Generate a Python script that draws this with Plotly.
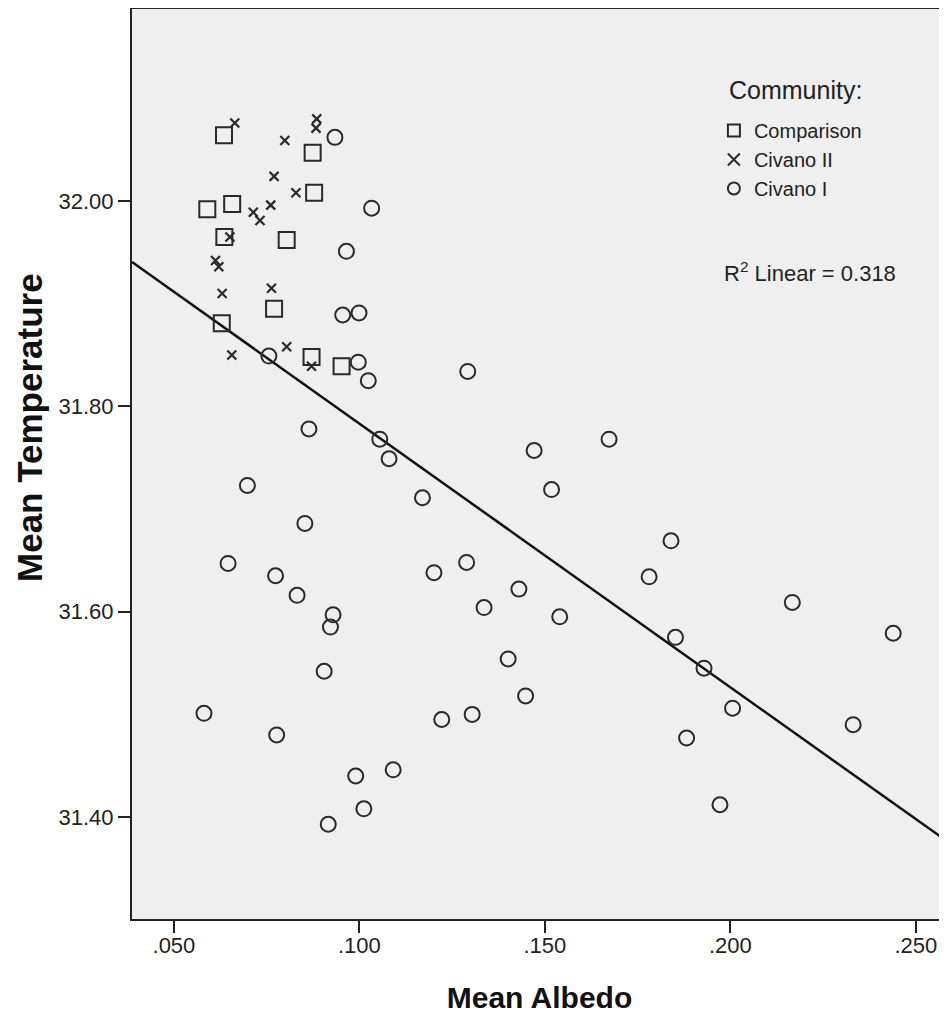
import numpy as np
import plotly.graph_objects as go

# ---- data ----
comparison_albedo = [0.0635, 0.0874, 0.0878, 0.0590, 0.0657, 0.0636, 0.0804, 0.0770, 0.0629, 0.0871, 0.0952]
comparison_temp = [32.064, 32.047, 32.008, 31.992, 31.997, 31.965, 31.962, 31.895, 31.881, 31.848, 31.839]

civano2_albedo = [0.0664, 0.0885, 0.0883, 0.0799, 0.0770, 0.0829, 0.0761, 0.0714, 0.0732, 0.0651,
                  0.0612, 0.0621, 0.0630, 0.0763, 0.0656, 0.0804, 0.0871]
civano2_temp = [32.076, 32.080, 32.071, 32.059, 32.024, 32.008, 31.996, 31.989, 31.981, 31.965,
                31.942, 31.936, 31.910, 31.915, 31.850, 31.858, 31.839]

civano1_albedo = [0.0934, 0.1033, 0.0965, 0.0955, 0.0999, 0.0756, 0.0997, 0.1024, 0.1292, 0.0864,
                  0.1055, 0.1080, 0.0698, 0.1170, 0.0853, 0.1471, 0.1673, 0.1518, 0.1840, 0.1781,
                  0.0646, 0.0774, 0.0832, 0.0929, 0.0922, 0.0905, 0.1289, 0.1201, 0.1430, 0.1336,
                  0.1540, 0.1852, 0.1929, 0.1401, 0.1448, 0.1304, 0.1222, 0.2006, 0.1882, 0.1972,
                  0.2167, 0.2439, 0.2331, 0.0581, 0.0777, 0.0990, 0.1091, 0.1012, 0.0916]
civano1_temp = [32.062, 31.993, 31.951, 31.889, 31.891, 31.849, 31.843, 31.825, 31.834, 31.778,
                31.768, 31.749, 31.723, 31.711, 31.686, 31.757, 31.768, 31.719, 31.669, 31.634,
                31.647, 31.635, 31.616, 31.597, 31.585, 31.542, 31.648, 31.638, 31.622, 31.604,
                31.595, 31.575, 31.545, 31.554, 31.518, 31.500, 31.495, 31.506, 31.477, 31.412,
                31.609, 31.579, 31.490, 31.501, 31.480, 31.440, 31.446, 31.408, 31.393]

# fitted line as drawn in the reference (R^2 linear = 0.318)
fit_intercept = 32.040
fit_slope = -2.568

x_tickvals = [0.05, 0.10, 0.15, 0.20, 0.25]
x_ticktext = [".050", ".100", ".150", ".200", ".250"]
y_tickvals = [31.40, 31.60, 31.80, 32.00]
y_ticktext = ["31.40", "31.60", "31.80", "32.00"]

x_range = [0.0387, 0.2584]
y_range = [31.3007, 32.188]

fit_x = np.array(x_range)
fit_y = fit_intercept + fit_slope * fit_x

INK = "#2a2a2a"
FONT = "Liberation Sans, Arial, sans-serif"

fig = go.Figure()
fig.add_trace(go.Scatter(
    x=fit_x, y=fit_y, mode="lines", line=dict(color="#111111", width=2.5),
    showlegend=False, hoverinfo="skip"))
fig.add_trace(go.Scatter(
    x=comparison_albedo, y=comparison_temp, mode="markers", name="Comparison",
    legendgroup="a",
    marker=dict(symbol="square-open", size=16, color=INK, line=dict(width=2, color=INK))))
fig.add_trace(go.Scatter(
    x=civano2_albedo, y=civano2_temp, mode="markers", name="Civano II",
    legendgroup="b",
    marker=dict(symbol="x-thin-open", size=9, color=INK, line=dict(width=2.2, color=INK))))
fig.add_trace(go.Scatter(
    x=civano1_albedo, y=civano1_temp, mode="markers", name="Civano I",
    legendgroup="c",
    marker=dict(symbol="circle-open", size=15, color=INK, line=dict(width=2, color=INK))))

fig.update_layout(
    width=939, height=1009,
    margin=dict(l=124, r=0, t=0, b=98),
    paper_bgcolor="white",
    plot_bgcolor="#efefef",
    font=dict(family=FONT, color="#222222"),
    showlegend=True,
    legend=dict(
        x=0.714, xanchor="left", y=0.887, yanchor="top",
        bgcolor="rgba(0,0,0,0)", borderwidth=0,
        font=dict(size=20, family=FONT, color="#222"),
        tracegroupgap=0,
        itemsizing="constant",
    ),
    xaxis=dict(
        range=x_range, tickvals=x_tickvals, ticktext=x_ticktext,
        showgrid=False, zeroline=False,
        showline=True, linecolor="#222", linewidth=2,
        ticks="outside", ticklen=12, tickwidth=2, tickcolor="#222",
        ticklabelstandoff=-6,
        tickfont=dict(size=22, family=FONT, color="#222"),
        title=dict(text="<b>Mean Albedo</b>", font=dict(size=30, family=FONT, color="#111"), standoff=30),
    ),
    yaxis=dict(
        range=y_range, tickvals=y_tickvals, ticktext=y_ticktext,
        showgrid=False, zeroline=False,
        showline=True, linecolor="#222", linewidth=2,
        ticks="outside", ticklen=12, tickwidth=2, tickcolor="#222",
        tickfont=dict(size=22, family=FONT, color="#222"),
    ),
    annotations=[
        dict(text="Community:", xref="paper", yref="paper",
             x=0.730, y=0.910, xanchor="left", yanchor="middle", showarrow=False,
             font=dict(size=25, family=FONT, color="#222")),
        dict(text="R<sup>2</sup> Linear = 0.318", xref="paper", yref="paper",
             x=0.724, y=0.710, xanchor="left", yanchor="middle", showarrow=False,
             font=dict(size=22, family=FONT, color="#222")),
        dict(text="<b>Mean Temperature</b>", xref="paper", yref="paper",
             x=-0.1265, y=0.540, xanchor="center", yanchor="middle", textangle=-90,
             showarrow=False, font=dict(size=35, family=FONT, color="#111")),
    ],
    shapes=[dict(type="line", xref="paper", yref="paper", x0=0, x1=1, y0=1, y1=1,
                 line=dict(color="#222", width=2))],
)

fig.write_html("out.html")
